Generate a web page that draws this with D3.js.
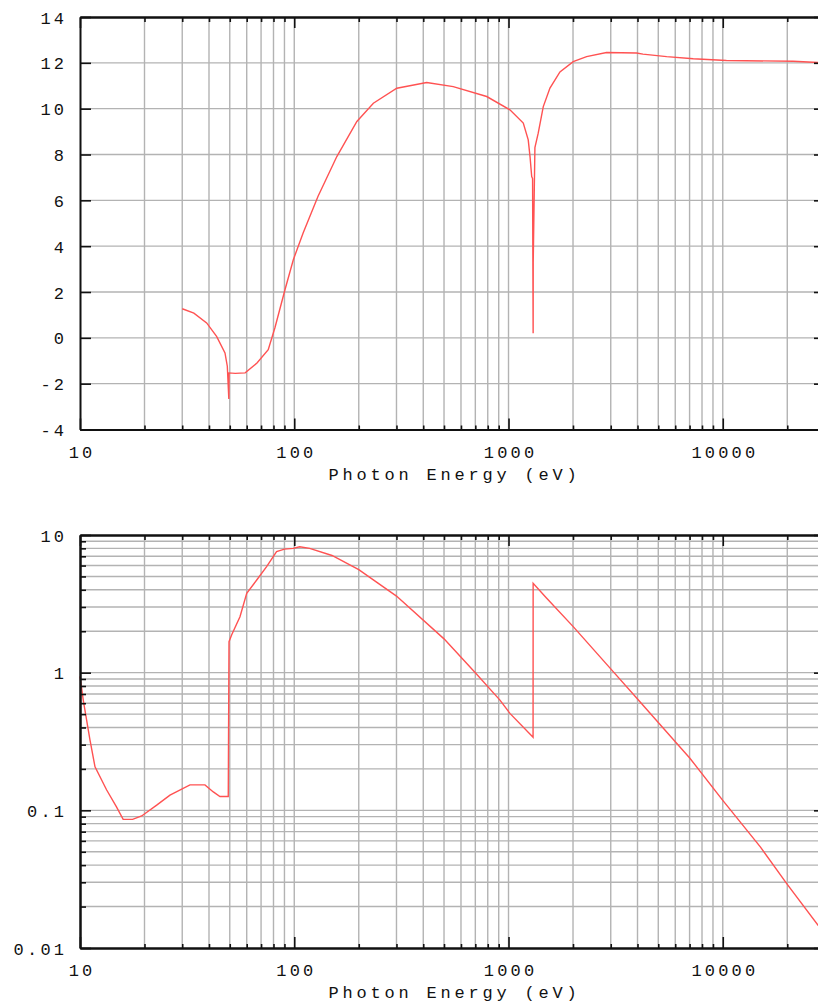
<!DOCTYPE html>
<html>
<head>
<meta charset="utf-8">
<script src="https://cdn.jsdelivr.net/npm/d3@7"></script>
<style>
  html, body { margin: 0; padding: 0; background: #fff; }
  svg { display: block; }
  .lbl { font-family: "Liberation Mono", "DejaVu Sans Mono", monospace; font-size: 17px; fill: #111; }
</style>
</head>
<body>
<svg id="chart" width="818" height="1007"></svg>
<script>
// Real part of the atomic scattering factor (f1) vs photon energy (eV)
const f1Energy = [30, 34, 39, 43.4, 47.5, 48.7, 49.5, 49.6, 53, 59, 67, 75.6, 81.3, 90.5, 99, 110, 129, 158, 196, 234, 301, 415, 552, 791, 1015, 1172, 1236, 1260, 1283, 1295, 1303, 1304, 1328, 1376, 1453, 1561, 1738, 2004, 2314, 2867, 3960, 4240, 5470, 7280, 10400, 21300, 30000];
const f1Values = [1.27, 1.08, 0.65, 0.06, -0.66, -1.24, -2.67, -1.53, -1.55, -1.53, -1.10, -0.52, 0.45, 2.1, 3.41, 4.57, 6.17, 7.91, 9.44, 10.24, 10.89, 11.14, 10.96, 10.53, 9.95, 9.37, 8.64, 7.91, 7.04, 6.95, 0.2, 3.3, 8.3, 8.93, 10.09, 10.9, 11.6, 12.05, 12.27, 12.45, 12.43, 12.38, 12.27, 12.18, 12.1, 12.07, 12.0];

// Imaginary part (f2) vs photon energy (eV)
const f2Energy = [10, 10.36, 11.13, 11.75, 13.3, 14.8, 15.9, 17.6, 19.4, 22.8, 26.3, 32.6, 38.3, 41.9, 45, 49.2, 49.6, 51, 55.8, 60, 66.8, 74.3, 82.7, 90, 98.9, 106, 118, 150, 200, 300, 500, 700, 912, 1015, 1302, 1303, 1500, 2004, 3000, 4000, 5000, 7024, 10000, 15000, 20000, 27800, 30000];
const f2Values = [0.94, 0.63, 0.325, 0.207, 0.141, 0.106, 0.086, 0.086, 0.091, 0.109, 0.129, 0.153, 0.153, 0.136, 0.126, 0.126, 1.68, 1.88, 2.55, 3.77, 4.71, 5.89, 7.57, 7.9, 8.0, 8.22, 7.99, 7.1, 5.6, 3.6, 1.76, 1.0, 0.632, 0.506, 0.34, 4.46, 3.5, 2.16, 1.065, 0.643, 0.434, 0.239, 0.118, 0.054, 0.029, 0.0147, 0.0128];

// Axis tick labels
const xMajorTicks = [10, 100, 1000, 10000];
const xTickLabels = ["10", "100", "1000", "10000"];
const yTopTicks = [-4, -2, 0, 2, 4, 6, 8, 10, 12, 14];
const yBottomTicks = [0.01, 0.1, 1, 10];
const yBottomLabels = ["0.01", "0.1", "1", "10"];
const xTitle = "Photon Energy (eV)";

const svg = d3.select("#chart");
const LEFT = 80, RIGHT = 825;
const GRID = "#b3b3b3", RED = "#ff5252";
const NUM_PITCH = 13.4, TITLE_PITCH = 14.0, LAST_ADV = 10.2;

// wide, evenly pitched label text
function spread(sel, pitch) {
  sel.each(function () {
    const n = this.textContent.length;
    d3.select(this)
      .attr("textLength", pitch * (n - 1) + LAST_ADV)
      .attr("lengthAdjust", "spacing");
  });
}

const x = d3.scaleLog().domain([10, 30000]).range([LEFT, RIGHT]);
const xMinor = x.ticks().filter(v => !xMajorTicks.includes(v));

function drawPanel(g, y, opts) {
  const [yb, yt] = y.range();

  // grid
  g.append("g").selectAll("line").data(x.ticks().filter(v => v > 10 && v < 30000))
    .join("line")
    .attr("x1", d => x(d)).attr("x2", d => x(d))
    .attr("y1", yt).attr("y2", yb)
    .attr("stroke", GRID).attr("stroke-width", 1.4);
  g.append("g").selectAll("line").data(opts.hGrid)
    .join("line")
    .attr("x1", LEFT).attr("x2", RIGHT)
    .attr("y1", d => y(d)).attr("y2", d => y(d))
    .attr("stroke", GRID).attr("stroke-width", 1.4);

  // curve
  g.append("path")
    .datum(d3.zip(opts.xs, opts.ys))
    .attr("fill", "none").attr("stroke", RED).attr("stroke-width", 1.4)
    .attr("d", d3.line().x(d => x(d[0])).y(d => y(d[1])));

  // x axes (bottom with labels, top ticks only)
  const bMajor = g.append("g").attr("transform", `translate(0,${yb})`)
    .call(d3.axisBottom(x).tickValues(xMajorTicks).tickSizeInner(-11).tickSizeOuter(0)
      .tickFormat((d, i) => xTickLabels[i]));
  bMajor.selectAll("text").attr("class", "lbl").attr("y", 28).attr("dy", null)
    .attr("font-size", null).attr("font-family", null);
  spread(bMajor.selectAll("text"), NUM_PITCH);
  g.append("g").attr("transform", `translate(0,${yb})`)
    .call(d3.axisBottom(x).tickValues(xMinor).tickSizeInner(-4).tickSizeOuter(0).tickFormat(""));
  g.append("g").attr("transform", `translate(0,${yt})`)
    .call(d3.axisTop(x).tickValues(xMajorTicks).tickSizeInner(-11).tickSizeOuter(0).tickFormat(""));
  g.append("g").attr("transform", `translate(0,${yt})`)
    .call(d3.axisTop(x).tickValues(xMinor).tickSizeInner(-5).tickSizeOuter(0).tickFormat(""));

  // y axes
  const yl = g.append("g").attr("transform", `translate(${LEFT},0)`)
    .call(d3.axisLeft(y).tickValues(opts.yTicks).tickSizeInner(-11).tickSizeOuter(0)
      .tickFormat((d, i) => opts.yLabels[i]));
  yl.selectAll("text").attr("class", "lbl").attr("x", -16).attr("dy", "0.36em")
    .attr("font-size", null).attr("font-family", null);
  spread(yl.selectAll("text"), NUM_PITCH);
  g.append("g").attr("transform", `translate(${RIGHT},0)`)
    .call(d3.axisRight(y).tickValues(opts.yTicks).tickSizeInner(-11).tickSizeOuter(0).tickFormat(""));
  if (opts.yMinor) {
    g.append("g").attr("transform", `translate(${LEFT},0)`)
      .call(d3.axisLeft(y).tickValues(opts.yMinor).tickSizeInner(-6).tickSizeOuter(0).tickFormat(""));
    g.append("g").attr("transform", `translate(${RIGHT},0)`)
      .call(d3.axisRight(y).tickValues(opts.yMinor).tickSizeInner(-6).tickSizeOuter(0).tickFormat(""));
  }

  g.selectAll(".domain").attr("stroke", "#111").attr("stroke-width", 2);
  g.selectAll(".tick line").attr("stroke", "#111").attr("stroke-width", 1.6);

  // axis title
  const title = g.append("text").attr("class", "lbl")
    .attr("x", 452.5).attr("y", yb + 50)
    .attr("text-anchor", "middle").text(xTitle);
  spread(title, TITLE_PITCH);
}

// upper panel: f1, linear scale
const yTop = d3.scaleLinear().domain([-4, 14]).range([429.5, 17]);
drawPanel(svg.append("g"), yTop, {
  xs: f1Energy, ys: f1Values,
  hGrid: yTopTicks.filter(v => v > -4 && v < 14),
  yTicks: yTopTicks, yLabels: yTopTicks.map(String)
});

// lower panel: f2, log scale
const yBot = d3.scaleLog().domain([0.01, 10]).range([948, 535]);
const yBotAll = yBot.ticks();
drawPanel(svg.append("g"), yBot, {
  xs: f2Energy, ys: f2Values,
  hGrid: yBotAll.filter(v => v > 0.01 && v < 10),
  yTicks: yBottomTicks, yLabels: yBottomLabels,
  yMinor: yBotAll.filter(v => !yBottomTicks.includes(v))
});
</script>
</body>
</html>
